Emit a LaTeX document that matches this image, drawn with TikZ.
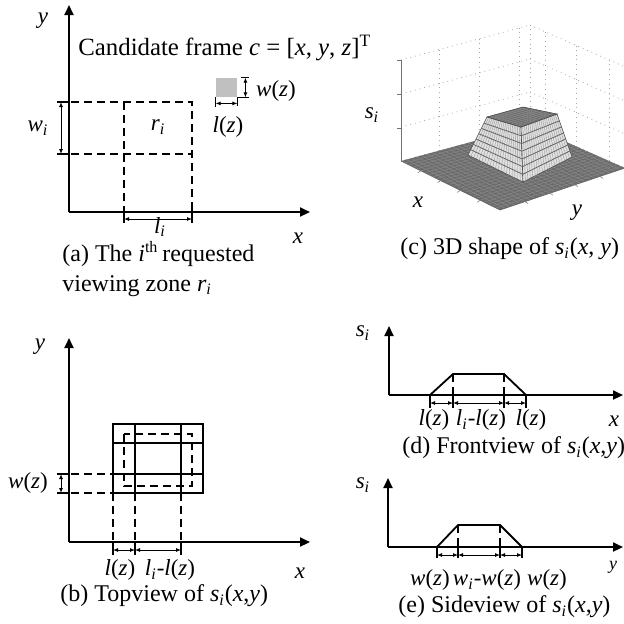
\documentclass[tikz,border=0pt]{standalone}
\usepackage{fontspec}
\setmainfont{Liberation Serif}
\usetikzlibrary{arrows.meta,calc}
\definecolor{framegray}{RGB}{192,192,192}
\definecolor{meshdark}{RGB}{108,108,108}
\definecolor{meshline}{RGB}{140,140,140}
\definecolor{meshlight}{RGB}{225,225,225}
\definecolor{gridgray}{RGB}{165,165,165}
\newcommand{\mi}[1]{\textit{#1}}
\newcommand{\isub}[1]{\textsubscript{\textit{#1}}}
\tikzset{
  axis/.style={-{Triangle[length=5pt,width=4.5pt]}, line width=1pt},
  dashline/.style={line width=0.9pt, dash pattern=on 4pt off 2.5pt},
  tickline/.style={line width=0.8pt},
  dimarrow/.style={{Latex[length=2.5pt,width=2pt]}-{Latex[length=2.5pt,width=2pt]},
                   line width=0.45pt},
  lbl/.style={inner sep=0pt, font=\fontsize{11.5}{14}\selectfont},
  caption/.style={inner sep=0pt, align=left, anchor=west,
                  font=\fontsize{12}{14}\selectfont},
  plotgrid/.style={gridgray, line width=0.4pt, dotted},
  solidbox/.style={line width=0.9pt},
  facefill/.style={fill=meshlight, draw=black!70, line width=0.3pt},
  facemesh/.style={black!40, line width=0.2pt}
}

\begin{document}
\begin{tikzpicture}[x=0.5pt, y=-0.5pt]
  \useasboundingbox (0,0) rectangle (624,623);

  % (a) requested viewing zone
  \coordinate (ao) at (69,212);
  \coordinate (ay) at (69,5);
  \coordinate (ax) at (310,212);
  \draw[axis] (ao) -- (ay);
  \draw[axis] (ao) -- (ax);
  \node[lbl] (ay-lbl) at (43,21) {\mi{y}};
  \node[lbl] (ax-lbl) at (298,238) {\mi{x}};
  \coordinate (ri-nw) at (124,102);
  \coordinate (ri-ne) at (192,102);
  \coordinate (ri-sw) at (124,212);
  \coordinate (ri-se) at (192,212);
  \draw[dashline] (58,102) -- (ri-ne) -- (ri-se);
  \draw[dashline] (58,154) -- (192,154);
  \draw[dashline] (ri-nw) -- (ri-sw);
  \node[lbl] (ri) at (158,127) {\mi{r}\isub{i}};
  \foreach \y in {102,154}
    \draw[tickline] (57,\y) -- (69,\y);
  \draw[dimarrow] (61,102) -- (61,154);
  \node[lbl] (wi) at (38,128) {\mi{w}\isub{i}};
  \foreach \x in {124,192}
    \draw[tickline] (\x,206) -- (\x,223);
  \draw[dimarrow] (124,219) -- (192,219);
  \node[lbl] (li) at (160,227) {\mi{l}\isub{i}};
  \node[lbl, anchor=west, font=\fontsize{12.4}{14}\selectfont] (frame) at (78,48)
    {Candidate frame \mi{c} = [\mi{x}, \mi{y}, \mi{z}]\textsuperscript{T}};
  \node[fill=framegray, minimum width=10.5pt, minimum height=9.5pt,
        inner sep=0pt] (cand) at (226.5,87.5) {};
  \draw[tickline, line width=0.6pt] ($(cand.north east)+(4,0)$) -- ++(8,0);
  \draw[tickline, line width=0.6pt] (cand.south east) -- ++(12,0);
  \draw[dimarrow] ($(cand.north east)+(8,0)$) -- ($(cand.south east)+(8,0)$);
  \draw[tickline, line width=0.6pt] (cand.south west) -- ++(0,10);
  \draw[tickline, line width=0.6pt] (cand.south east) -- ++(0,9);
  \draw[dimarrow] ($(cand.south west)+(0,6)$) -- ($(cand.south east)+(0,6)$);
  \node[lbl] (wz-a) at (276,91) {\mi{w}(\mi{z})};
  \node[lbl] (lz-a) at (228,127) {\mi{l}(\mi{z})};
  \node[caption] (cap-a) at (62,269)
    {(a) The \mi{i}\textsuperscript{th}\hspace{-1pt} requested\\[1pt]viewing zone \mi{r}\isub{i}};

  % (c) 3D shape
  \begin{scope}
    \clip (380,0) rectangle (624,240);
    \foreach \dz in {0,34,67,101} {
      \draw[plotgrid] (401,161-\dz) -- (530,126-\dz);
      \draw[plotgrid] (530,126-\dz) -- (625,168-\dz);
    }
    \foreach \t in {0.30,0.61,0.92}
      \draw[plotgrid] ($(401,161)!\t!(530,126)$) -- ($(401,60)!\t!(530,25)$);
    \foreach \t in {0.16,0.49,0.84}
      \draw[plotgrid] ($(530,126)!\t!(625,168)$) -- ($(530,25)!\t!(625,67)$);
    \draw[plotgrid] (530,126) -- (530,25);
    \draw[black!55, line width=0.5pt] (401,60) -- (401,161);
    \foreach \y in {60,94,128}
      \draw[black!55, line width=0.5pt] (397,\y) -- (401,\y);
    % floor
    \coordinate (fl-l) at (401,161);
    \coordinate (fl-f) at (500,210);
    \coordinate (fl-r) at (625,168);
    \coordinate (fl-b) at (530,126);
    \fill[meshdark] (fl-l) -- (fl-f) -- (fl-r) -- (fl-b) -- cycle;
    \foreach \t in {0.04,0.08,...,0.97} {
      \draw[meshline, line width=0.2pt] ($(fl-l)!\t!(fl-f)$) -- ($(fl-b)!\t!(fl-r)$);
      \draw[meshline, line width=0.2pt] ($(fl-l)!\t!(fl-b)$) -- ($(fl-f)!\t!(fl-r)$);
    }
    \draw[black!60, line width=0.3pt] (fl-l) -- (fl-f) -- (fl-r);
    \foreach \t in {0.2,0.4,0.6,0.8} {
      \draw[black!50, line width=0.3pt] ($(fl-l)!\t!(fl-f)$) -- ++(-3,2);
      \draw[black!50, line width=0.3pt] ($(fl-f)!\t!(fl-r)$) -- ++(3,2);
    }
    % frustum
    \coordinate (bs-l) at (468,155);
    \coordinate (bs-f) at (523,182);
    \coordinate (bs-r) at (572,157);
    \coordinate (tp-l) at (487,117);
    \coordinate (tp-f) at (521,127);
    \coordinate (tp-r) at (557,114);
    \coordinate (tp-b) at (523,107);
    \draw[facefill] (bs-l) -- (bs-f) -- (tp-f) -- (tp-l) -- cycle;
    \draw[facefill] (bs-f) -- (bs-r) -- (tp-r) -- (tp-f) -- cycle;
    \foreach \s in {0.05,0.10,...,0.96} {
      \draw[facemesh] ($(bs-l)!\s!(bs-f)$) -- ($(tp-l)!\s!(tp-f)$);
      \draw[facemesh] ($(bs-f)!\s!(bs-r)$) -- ($(tp-f)!\s!(tp-r)$);
    }
    \foreach \s in {0.14,0.28,...,0.9} {
      \draw[black!60, line width=0.4pt] ($(bs-l)!\s!(tp-l)$) -- ($(bs-f)!\s!(tp-f)$)
        -- ($(bs-r)!\s!(tp-r)$);
    }
    \fill[meshdark] (tp-l) -- (tp-f) -- (tp-r) -- (tp-b) -- cycle;
    \foreach \t in {0.1,0.2,...,0.95} {
      \draw[meshline, line width=0.2pt] ($(tp-l)!\t!(tp-f)$) -- ($(tp-b)!\t!(tp-r)$);
      \draw[meshline, line width=0.2pt] ($(tp-l)!\t!(tp-b)$) -- ($(tp-f)!\t!(tp-r)$);
    }
    \draw[black!70, line width=0.3pt] (tp-l) -- (tp-f) -- (tp-r) -- (tp-b) -- cycle;
  \end{scope}
  \node[lbl] (si-c) at (372,115) {\mi{s}\isub{i}};
  \node[lbl] (x-c) at (418,202) {\mi{x}};
  \node[lbl] (y-c) at (577,213) {\mi{y}};
  \node[caption] (cap-c) at (400,249) {(c) 3D shape of \mi{s}\isub{i}(\mi{x}, \mi{y})};

  % (b) topview
  \coordinate (bo) at (69,542);
  \coordinate (by) at (69,338);
  \coordinate (bx) at (310,542);
  \draw[axis] (bo) -- (by);
  \draw[axis] (bo) -- (bx);
  \node[lbl] (by-lbl) at (40,347) {\mi{y}};
  \node[lbl] (bx-lbl) at (300,573) {\mi{x}};
  \draw[solidbox] (113,424) rectangle (203,493);
  \foreach \x in {135,181}
    \draw[solidbox] (\x,424) -- (\x,493);
  \foreach \y in {443,474}
    \draw[solidbox] (113,\y) -- (203,\y);
  \draw[dashline] (124,434) rectangle (192,486);
  \foreach \y in {474,493} {
    \draw[dashline] (58,\y) -- (113,\y);
    \draw[tickline] (57,\y) -- (69,\y);
  }
  \draw[dimarrow] (61,474) -- (61,493);
  \node[lbl] (wz-b) at (28,483) {\mi{w}(\mi{z})};
  \foreach \x in {113,135,181} {
    \draw[dashline] (\x,493) -- (\x,542);
    \draw[tickline] (\x,542) -- (\x,555);
  }
  \draw[dimarrow] (113,550) -- (135,550);
  \draw[dimarrow] (135,550) -- (181,550);
  \node[lbl] (lz-b) at (120,570) {\mi{l}(\mi{z})};
  \node[lbl] (lilz-b) at (170,570) {\mi{l}\isub{i}-\mi{l}(\mi{z})};
  \node[caption] (cap-b) at (60,596) {(b) Topview of \mi{s}\isub{i}(\mi{x},\mi{y})};

  % (d) frontview
  \coordinate (do) at (389,395);
  \coordinate (dy) at (389,326);
  \coordinate (dx) at (623,395);
  \draw[axis] (do) -- (dy);
  \draw[axis] (do) -- (dx);
  \node[lbl] (si-d) at (363,333) {\mi{s}\isub{i}};
  \node[lbl] (x-d) at (614,421) {\mi{x}};
  \draw[solidbox] (430,395) -- (453,374) -- (504,374) -- (526,395);
  \foreach \x in {453,504}
    \draw[dashline] (\x,374) -- (\x,395);
  \foreach \x in {430,453,504,526}
    \draw[tickline] (\x,395) -- (\x,408);
  \draw[dimarrow] (430,403) -- (453,403);
  \draw[dimarrow] (453,403) -- (504,403);
  \draw[dimarrow] (504,403) -- (526,403);
  \node[lbl] (lz-d1) at (434,420) {\mi{l}(\mi{z})};
  \node[lbl] (lilz-d) at (481,420) {\mi{l}\isub{i}-\mi{l}(\mi{z})};
  \node[lbl] (lz-d2) at (531,420) {\mi{l}(\mi{z})};
  \node[caption] (cap-d) at (402,448) {(d) Frontview of \mi{s}\isub{i}(\mi{x},\mi{y})};

  % (e) sideview
  \coordinate (eo) at (388,547);
  \coordinate (ey) at (388,478);
  \coordinate (ex) at (623,547);
  \draw[axis] (eo) -- (ey);
  \draw[axis] (eo) -- (ex);
  \node[lbl] (si-e) at (363,485) {\mi{s}\isub{i}};
  \node[lbl, font=\fontsize{9}{11}\selectfont] (y-e) at (613,567) {\mi{y}};
  \draw[solidbox] (437,547) -- (458,525) -- (500,525) -- (522,547);
  \foreach \x in {458,500}
    \draw[dashline] (\x,525) -- (\x,547);
  \foreach \x in {437,458,500,522}
    \draw[tickline] (\x,547) -- (\x,558);
  \draw[dimarrow] (437,555) -- (458,555);
  \draw[dimarrow] (458,555) -- (500,555);
  \draw[dimarrow] (500,555) -- (522,555);
  \node[lbl] (wz-e1) at (430,580) {\mi{w}(\mi{z})};
  \node[lbl] (wiwz-e) at (487,580) {\mi{w}\isub{i}-\mi{w}(\mi{z})};
  \node[lbl] (wz-e2) at (547,580) {\mi{w}(\mi{z})};
  \node[caption] (cap-e) at (398,607) {(e) Sideview of \mi{s}\isub{i}(\mi{x},\mi{y})};
\end{tikzpicture}
\end{document}
